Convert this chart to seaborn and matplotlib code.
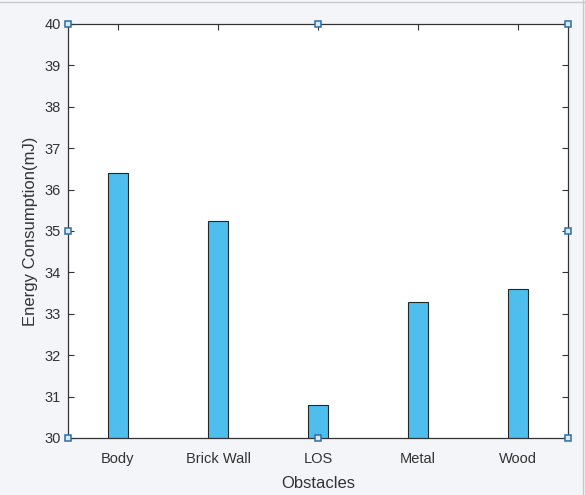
import matplotlib
matplotlib.use("Agg")
import matplotlib.pyplot as plt
import seaborn as sns
import pandas as pd

obstacles = ["Body", "Brick Wall", "LOS", "Metal", "Wood"]
energy_mj = [36.40, 35.24, 30.80, 33.28, 33.60]
y_ticks = [30, 31, 32, 33, 34, 35, 36, 37, 38, 39, 40]

df = pd.DataFrame({"Obstacles": obstacles, "Energy": energy_mj})

sns.set_theme(style="ticks")
plt.rcParams["font.family"] = ["Liberation Sans", "DejaVu Sans"]

fig = plt.figure(figsize=(5.85, 4.95), dpi=100, facecolor="#f4f5f9")
ax = fig.add_axes([68/585, 1 - 438/495, 500/585, 414/495])
ax.set_facecolor("white")

sns.barplot(data=df, x="Obstacles", y="Energy", ax=ax, color="#4dbeee",
            width=0.2, saturation=1, edgecolor="#1f2a2a", linewidth=0.8)

ax.set_xlim(-0.5, 4.5)
ax.set_ylim(30, 40)
ax.set_yticks(y_ticks)
ax.set_yticklabels([str(t) for t in y_ticks])
ax.set_xlabel("Obstacles", fontsize=12, color="#333333", labelpad=7)
ax.set_ylabel("Energy Consumption(mJ)", fontsize=12, color="#333333", labelpad=5)

for s in ax.spines.values():
    s.set_visible(True)
    s.set_color("#333333")
    s.set_linewidth(0.9)
ax.tick_params(direction="in", length=4, width=0.8, color="#333333",
               labelsize=10.5, labelcolor="#333333", top=True, right=True)
ax.tick_params(axis="x", pad=10)
ax.tick_params(axis="y", pad=5)

# selection handles (MATLAB edit-mode squares) in axes coordinates
hx = [0, 0.5, 1, 0, 1, 0, 0.5, 1]
hy = [1, 1, 1, 0.5, 0.5, 0, 0, 0]
ax.plot(hx, hy, linestyle="none", marker="s", markersize=5,
        markerfacecolor="#d8e8f4", markeredgecolor="#2a6fa8", markeredgewidth=1.1,
        transform=ax.transAxes, clip_on=False, zorder=10)

# light border at top and right of figure
fig.add_artist(plt.Line2D([0, 1], [1 - 2/495, 1 - 2/495], color="#c8c8cc", lw=1, transform=fig.transFigure))
fig.add_artist(plt.Line2D([1 - 2/585, 1 - 2/585], [0, 1], color="#c8c8cc", lw=1, transform=fig.transFigure))

fig.savefig("out.png", dpi=100, facecolor=fig.get_facecolor())
